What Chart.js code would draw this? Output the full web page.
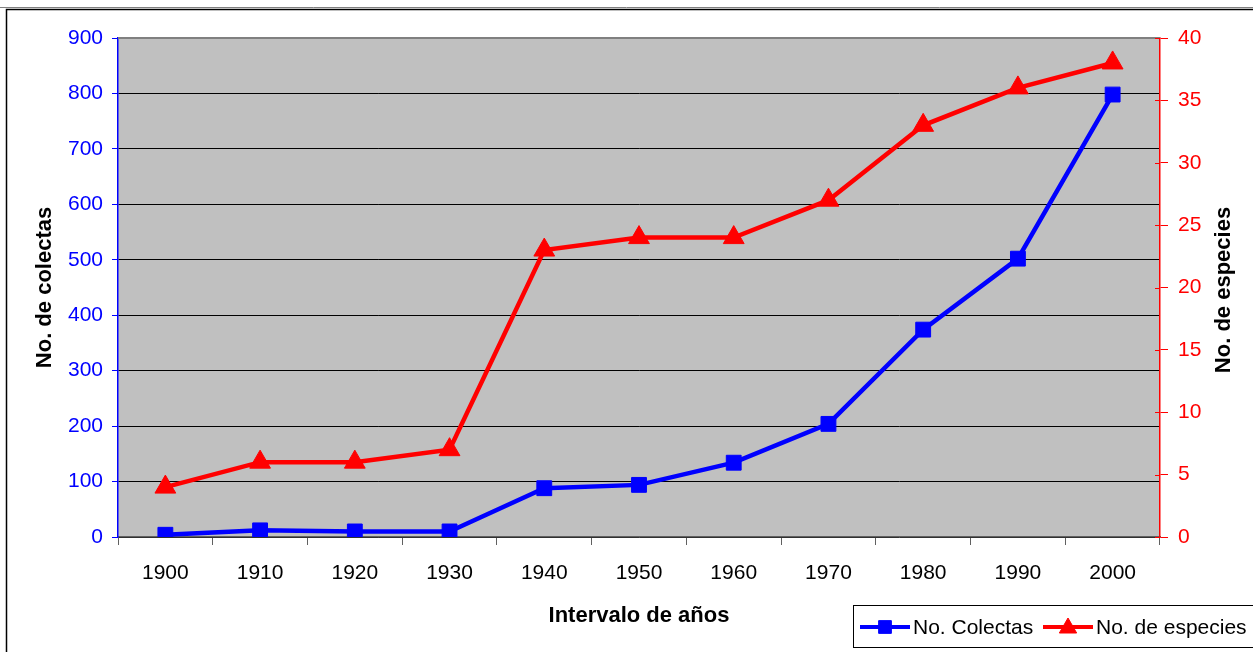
<!DOCTYPE html>
<html>
<head>
<meta charset="utf-8">
<script src="https://cdn.jsdelivr.net/npm/chart.js@4.4.0/dist/chart.umd.min.js"></script>
<style>
  html, body { margin: 0; padding: 0; background: #fff; }
  #wrap { width: 1253px; height: 652px; position: relative; }
</style>
</head>
<body>
<div id="wrap"><canvas id="chart" width="1253" height="652"></canvas></div>
<script>
// values
const years = ['1900', '1910', '1920', '1930', '1940', '1950', '1960', '1970', '1980', '1990', '2000'];
const colectas = [4, 12, 10, 10, 88, 94, 134, 204, 374, 502, 798];
const especies = [4, 6, 6, 7, 23, 24, 24, 27, 33, 36, 38];

const FONT = 'Liberation Sans, Arial, sans-serif';

// grey plot background, outer frame, right title, legend box
const decor = {
  id: 'decor',
  beforeDraw(chart) {
    const { ctx, chartArea: a } = chart;
    ctx.save();
    ctx.fillStyle = '#c0c0c0';
    ctx.fillRect(a.left, a.top, a.right - a.left, a.bottom - a.top);
    ctx.restore();
  },
  afterDatasetsDraw(chart) {
    const { ctx, chartArea: a } = chart;
    ctx.save();
    // plot border (top) in grey
    ctx.strokeStyle = '#808080';
    ctx.lineWidth = 2;
    ctx.beginPath();
    ctx.moveTo(a.left, a.top);
    ctx.lineTo(a.right, a.top);
    ctx.stroke();
    ctx.restore();
  },
  afterDraw(chart) {
    const { ctx, chartArea: a } = chart;
    ctx.save();
    // right axis ticks cross the axis line
    const yr = chart.scales.y1;
    ctx.strokeStyle = '#ff0000';
    ctx.lineWidth = 1;
    yr.ticks.forEach(t => {
      const y = Math.round(yr.getPixelForValue(t.value)) + 0.5;
      ctx.beginPath();
      ctx.moveTo(a.right - 5, y);
      ctx.lineTo(a.right, y);
      ctx.stroke();
    });

    // outer frame
    ctx.strokeStyle = '#808080';
    ctx.lineWidth = 1;
    ctx.beginPath();
    ctx.moveTo(0, 7.5);
    ctx.lineTo(1253, 7.5);
    ctx.stroke();
    ctx.strokeStyle = '#000';
    ctx.lineWidth = 1.5;
    ctx.beginPath();
    ctx.moveTo(1253, 9.5);
    ctx.lineTo(6.5, 9.5);
    ctx.lineTo(6.5, 652);
    ctx.stroke();

    // right axis title, reading bottom to top
    ctx.fillStyle = '#000';
    ctx.font = 'bold 22px ' + FONT;
    ctx.textAlign = 'center';
    ctx.textBaseline = 'middle';
    ctx.translate(1224, 290);
    ctx.rotate(-Math.PI / 2);
    ctx.fillText('No. de especies', 0, 0);
    ctx.setTransform(1, 0, 0, 1, 0, 0);

    // legend
    ctx.fillStyle = '#fff';
    ctx.fillRect(853.5, 605.5, 410, 42);
    ctx.strokeStyle = '#000';
    ctx.lineWidth = 1;
    ctx.strokeRect(853.5, 605.5, 410, 42);
    const items = [
      { ds: chart.data.datasets[0], x: 860, tx: 913 },
      { ds: chart.data.datasets[1], x: 1043, tx: 1096 }
    ];
    ctx.font = '21px ' + FONT;
    ctx.textAlign = 'left';
    ctx.textBaseline = 'middle';
    items.forEach(it => {
      const cy = 627;
      ctx.strokeStyle = it.ds.borderColor;
      ctx.lineWidth = 4;
      ctx.beginPath();
      ctx.moveTo(it.x, cy);
      ctx.lineTo(it.x + 50, cy);
      ctx.stroke();
      ctx.fillStyle = it.ds.borderColor;
      ctx.strokeStyle = it.ds.borderColor;
      ctx.lineWidth = 1;
      Chart.helpers.drawPoint(ctx, {
        pointStyle: it.ds.pointStyle,
        radius: it.ds.pointStyle === 'rect' ? 9 : 10,
        borderWidth: 1
      }, it.x + 25, it.ds.pointStyle === 'rect' ? cy : cy + 1);
      ctx.fillStyle = '#000';
      ctx.fillText(it.ds.label, it.tx, cy + 1);
    });
    ctx.restore();
  }
};

new Chart(document.getElementById('chart'), {
  type: 'line',
  data: {
    labels: years,
    datasets: [
      {
        label: 'No. Colectas',
        data: colectas,
        yAxisID: 'y',
        borderColor: '#0000ff',
        backgroundColor: '#0000ff',
        borderWidth: 4.5,
        pointStyle: 'rect',
        pointRadius: 10.5,
        pointBorderWidth: 1,
        tension: 0
      },
      {
        label: 'No. de especies',
        data: especies,
        yAxisID: 'y1',
        borderColor: '#ff0000',
        backgroundColor: '#ff0000',
        borderWidth: 4.5,
        pointStyle: 'triangle',
        pointRadius: 12,
        pointBorderWidth: 1,
        tension: 0
      }
    ]
  },
  options: {
    responsive: false,
    animation: false,
    layout: { padding: { top: 38, left: 0, right: 0, bottom: 0 } },
    plugins: {
      legend: { display: false },
      tooltip: { enabled: false }
    },
    scales: {
      x: {
        offset: true,
        grid: { offset: true, drawOnChartArea: false, tickLength: 8, tickColor: '#606060', lineWidth: 1 },
        border: { color: '#606060', width: 1.5 },
        ticks: { color: '#000', font: { family: FONT, size: 21 }, padding: 16, maxRotation: 0 },
        title: {
          display: true,
          text: 'Intervalo de años',
          color: '#000',
          font: { family: FONT, size: 22, weight: 'bold' },
          padding: { top: 0, bottom: 23 }
        },
        afterFit(s) { s.height = 115; }
      },
      y: {
        position: 'left',
        min: 0,
        max: 900,
        ticks: { stepSize: 100, color: '#0000ff', font: { family: FONT, size: 21 }, padding: 9 },
        grid: { color: '#000', lineWidth: 1, tickColor: '#0000ff', tickLength: 6 },
        border: { color: '#0000ff', width: 1.5 },
        title: {
          display: true,
          text: 'No. de colectas',
          color: '#000',
          font: { family: FONT, size: 22, weight: 'bold' },
          padding: { top: 32, bottom: 0 }
        },
        afterFit(s) { s.width = 118; }
      },
      y1: {
        position: 'right',
        min: 0,
        max: 40,
        ticks: { stepSize: 5, color: '#ff0000', font: { family: FONT, size: 21 }, padding: 10 },
        grid: { drawOnChartArea: false, color: '#ff0000', tickColor: '#ff0000', tickLength: 8 },
        border: { color: '#ff0000', width: 1.5 },
        afterFit(s) { s.width = 93; }
      }
    }
  },
  plugins: [decor]
});
</script>
</body>
</html>
